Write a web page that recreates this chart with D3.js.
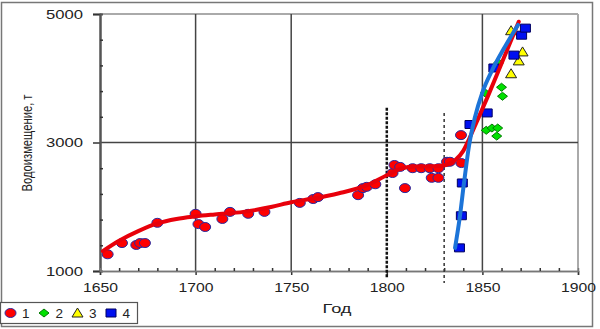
<!DOCTYPE html>
<html lang="ru">
<head>
<meta charset="UTF-8">
<title>Водоизмещение</title>
<script src="https://d3js.org/d3.v7.min.js"></script>
<style>
  body { margin: 0; background: #fff; }
  svg { display: block; font-family: 'Liberation Sans', Arial, sans-serif; }
  .axis text { fill: #222; font-size: 13px; }
</style>
</head>
<body>
<svg width="600" height="329"></svg>
<script>
// series 1..4 : [year, displacement]
var series1 = [[1654,1260],[1661.5,1435],[1669,1405],[1671,1435],[1673.5,1435],[1680,1750],
  [1700,1890],[1701.5,1730],[1705,1685],[1714,1810],[1718,1920],[1727.5,1890],[1736,1920],
  [1754.5,2060],[1761.5,2120],[1764,2150],[1785,2180],[1787.5,2290],[1789.5,2310],[1794,2350],
  [1803,2525],[1804,2650],[1807,2620],[1809.5,2290],[1813.5,2600],[1818,2600],[1822.5,2600],
  [1827,2600],[1823.5,2450],[1827,2450],[1831.5,2700],[1833,2700],[1839,2680],[1838.8,3115]];
var series2 = [[1852,3190],[1855,3225],[1858,3225],[1857.5,3100],[1860,3860],[1860.5,3720],
  [1851.5,3770],[1858.5,4240]];
var series3 = [[1865,4740],[1871,4410],[1869,4270],[1865,4070]];
var series4 = [[1838,1360],[1839,1860],[1839.5,2370],[1843.5,3280],[1852.5,3460],[1856,4160],
  [1866.5,4360],[1870.5,4670],[1872.5,4780]];

// trend lines
var trendRed = [[1651.5,1310],[1660,1470],[1670,1620],[1680,1740],[1690,1810],[1700,1850],
  [1710,1880],[1725,1920],[1740,2000],[1750,2070],[1760,2120],[1775,2210],[1790,2340],
  [1800,2490],[1808,2600],[1815,2625],[1825,2630],[1831,2650],[1836,2730],[1840,2870],
  [1843,3050],[1847,3320],[1853,3730],[1860,4230],[1869,4880]];
var trendBlue = [[1835.7,1360],[1838,1800],[1840.5,2400],[1843,2950],[1846,3380],[1850,3780],
  [1855,4120],[1861,4450],[1868.6,4830]];

// dashed reference years [year, top value]
var refLines = [[1800,3540,"thick"],[1830,3460,"thin"]];

var xTicks = [1650,1700,1750,1800,1850,1900];
var yTicks = [1000,3000,5000];
var xGrid = [1700,1750,1850];
var yGrid = [3000];
var legendLabels = ["1","2","3","4"];

var svg = d3.select("svg");
var x = d3.scaleLinear().domain([1650,1900]).range([100,578]);
var y = d3.scaleLinear().domain([1000,5000]).range([271,14]);

// outer frame
svg.append("rect").attr("x",1.5).attr("y",2.5).attr("width",591).attr("height",324)
  .attr("fill","#fff").attr("stroke","#777").attr("stroke-width",1.5);

// plot frame top/right
svg.append("line").attr("x1",x(1650)).attr("x2",x(1900)).attr("y1",y(5000)).attr("y2",y(5000))
  .attr("stroke","#aaa").attr("stroke-width",2);
svg.append("line").attr("x1",x(1900)).attr("x2",x(1900)).attr("y1",y(5000)).attr("y2",y(1000))
  .attr("stroke","#aaa").attr("stroke-width",2);

// grid
svg.selectAll(".xg").data(xGrid).enter().append("line")
  .attr("x1",d=>x(d)).attr("x2",d=>x(d)).attr("y1",y(5000)).attr("y2",y(1000))
  .attr("stroke","#444").attr("stroke-width",1.5);
svg.selectAll(".yg").data(yGrid).enter().append("line")
  .attr("x1",x(1650)).attr("x2",x(1900)).attr("y1",d=>y(d)).attr("y2",d=>y(d))
  .attr("stroke","#444").attr("stroke-width",1.5);

// axes
var yAxis = svg.append("g").attr("class","axis").attr("transform","translate("+x(1650)+",0)")
  .call(d3.axisLeft(y).tickValues(yTicks).tickFormat(d3.format("d")).tickSize(7).tickPadding(10));
var yMinor = svg.append("g").attr("transform","translate("+x(1650)+",0)")
  .call(d3.axisLeft(y).tickValues(d3.range(1400,5000,400).filter(v=>v!==3000)).tickSize(-3).tickFormat(""));
var xAxis = svg.append("g").attr("class","axis").attr("transform","translate(0,"+y(1000)+")")
  .call(d3.axisBottom(x).tickValues(xTicks).tickFormat(d3.format("d")).tickSize(4).tickPadding(8));
var xMinor = svg.append("g").attr("transform","translate(0,"+y(1000)+")")
  .call(d3.axisBottom(x).tickValues(d3.range(1660,1900,10).filter(v=>v%50)).tickSize(-3).tickFormat(""));

[yAxis,yMinor,xAxis,xMinor].forEach(function(g){
  g.select(".domain").attr("stroke","#555").attr("stroke-width",2);
  g.selectAll(".tick line").attr("stroke","#333").attr("stroke-width",1.5);
});
xAxis.select(".domain").attr("stroke","#777").attr("stroke-width",1.5);
xMinor.select(".domain").attr("stroke","#777").attr("stroke-width",1.5);
yAxis.selectAll("text").attr("textLength",37).attr("lengthAdjust","spacingAndGlyphs");
xAxis.selectAll("text").attr("textLength",35).attr("lengthAdjust","spacingAndGlyphs");

// dashed reference lines
svg.selectAll(".ref").data(refLines).enter().append("line")
  .attr("x1",d=>x(d[0])).attr("x2",d=>x(d[0]))
  .attr("y1",d=>y(d[1])).attr("y2",d=>y(1000)+(d[2]==="thick"?7:12))
  .attr("stroke",d=>d[2]==="thick"?"#111":"#333")
  .attr("stroke-width",d=>d[2]==="thick"?2.5:1.5)
  .attr("stroke-dasharray",d=>d[2]==="thick"?"3,1.5":"3,3");

// markers
var shapes = {
  circle: "M-5.5,0A5.5,4.5 0 1,0 5.5,0A5.5,4.5 0 1,0 -5.5,0Z",
  diamond: "M0,-4L5,0L0,4L-5,0Z",
  triangle: "M0,-5L5.5,4L-5.5,4Z",
  square: "M-5,-4H5V4H-5Z"
};
var styles = [
  {data:series1, shape:"circle", fill:"#ff0000", stroke:"#2a2aa0"},
  {data:series2, shape:"diamond", fill:"#00e000", stroke:"#007a00"},
  {data:series3, shape:"triangle", fill:"#ffff00", stroke:"#222"},
  {data:series4, shape:"square", fill:"#0010f0", stroke:"#000060"}
];
styles.forEach(function(s){
  svg.append("g").selectAll("path").data(s.data).enter().append("path")
    .attr("d",shapes[s.shape])
    .attr("transform",d=>"translate("+x(d[0])+","+y(d[1])+")")
    .attr("fill",s.fill).attr("stroke",s.stroke).attr("stroke-width",1);
});

// trend lines
var line = d3.line().x(d=>x(d[0])).y(d=>y(d[1])).curve(d3.curveMonotoneX);
svg.append("path").datum(trendRed).attr("d",line).attr("fill","none")
  .attr("stroke","#e8000b").attr("stroke-width",4).attr("stroke-linecap","round");
svg.append("path").datum(trendBlue).attr("d",line).attr("fill","none")
  .attr("stroke","#1c74d8").attr("stroke-width",4).attr("stroke-linecap","round");

// axis titles
svg.append("text").attr("x",337).attr("y",313).attr("text-anchor","middle")
  .attr("font-size",12.5).attr("fill","#222").attr("textLength",29).attr("lengthAdjust","spacingAndGlyphs")
  .text("Год");
svg.append("text").attr("transform","translate(32,143) rotate(-90) scale(1,1.25)")
  .attr("text-anchor","middle").attr("font-size",12).attr("fill","#222")
  .attr("textLength",97).attr("lengthAdjust","spacingAndGlyphs")
  .text("Водоизмещение, т");

// legend
var leg = svg.append("g");
leg.append("rect").attr("x",0.5).attr("y",302.5).attr("width",137).attr("height",21)
  .attr("fill","#fff").attr("stroke","#555").attr("stroke-width",1.2);
var items = leg.selectAll(".li").data(styles).enter().append("g")
  .attr("transform",(d,i)=>"translate("+(10.5+i*33.5)+",313)");
items.append("path").attr("d",d=>shapes[d.shape]).attr("fill",d=>d.fill).attr("stroke",d=>d.stroke);
items.append("text").attr("x",11.5).attr("y",5).attr("font-size",13.5).attr("fill","#222")
  .text((d,i)=>legendLabels[i]);
</script>
</body>
</html>
